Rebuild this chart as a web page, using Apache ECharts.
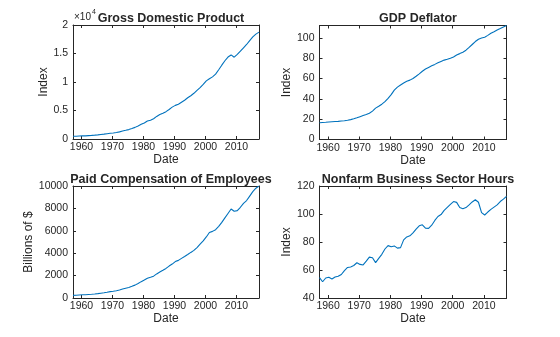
<!DOCTYPE html>
<html>
<head>
<meta charset="utf-8">
<script src="https://cdn.jsdelivr.net/npm/echarts@6/dist/echarts.min.js"></script>
<style>
html,body{margin:0;padding:0;background:#fff;}
#c{width:560px;height:337px;}
</style>
</head>
<body>
<div id="c"></div>
<script>
// Years of the observations (plotted at the end of Q1 of each year)
const years = [1957,1958,1959,1960,1961,1962,1963,1964,1965,1966,1967,1968,1969,1970,1971,1972,1973,1974,1975,1976,1977,1978,1979,1980,1981,1982,1983,1984,1985,1986,1987,1988,1989,1990,1991,1992,1993,1994,1995,1996,1997,1998,1999,2000,2001,2002,2003,2004,2005,2006,2007,2008,2009,2010,2011,2012,2013,2014,2015,2016,2017];

// Gross Domestic Product (billions of $)
const gdp = [470,480,515,540,555,595,630,675,730,800,850,925,1000,1055,1140,1255,1400,1520,1650,1840,2040,2300,2580,2820,3150,3290,3560,3960,4290,4530,4800,5180,5590,5900,6100,6450,6800,7230,7590,8020,8530,9010,9570,10200,10580,10900,11380,12140,12950,13730,14380,14750,14350,14850,15400,16000,16580,17250,17900,18400,18750];

// GDP Deflator (index)
const deflator = [16.5,16.8,17.0,17.3,17.5,17.7,17.9,18.2,18.5,19.0,19.6,20.4,21.4,22.5,23.6,24.6,25.8,28.0,30.9,32.7,34.8,37.3,40.5,44.2,48.6,51.6,53.7,55.7,57.4,58.5,60.1,62.3,64.7,67.2,69.4,71.0,72.6,74.0,75.5,76.9,78.2,79.0,80.0,81.3,83.3,84.6,86.0,88.0,90.7,93.6,96.5,98.8,99.9,100.7,102.6,104.6,106.2,107.9,109.3,110.8,112.3];

// Paid Compensation of Employees (billions of $)
const compensation = [235,245,265,285,295,315,335,360,390,430,465,515,570,605,650,715,800,875,935,1040,1150,1300,1460,1600,1760,1850,1950,2150,2320,2470,2640,2850,3030,3250,3360,3540,3700,3880,4070,4250,4500,4800,5100,5450,5850,5950,6100,6400,6750,7150,7550,7950,7750,7800,8100,8450,8700,9100,9500,9800,10000];

// Nonfarm Business Sector Hours (index)
const hours = [54.6,51.6,54.3,54.8,53.6,55.0,55.5,56.8,59.5,61.8,62.2,63.2,65.2,64.0,63.6,66.3,69.2,68.8,65.3,68.3,71.2,75.0,77.4,76.6,77.2,75.6,76.0,81.5,83.6,84.4,86.5,89.2,91.6,92.3,89.9,89.7,92.0,95.4,98.2,99.6,102.6,104.8,106.9,108.9,108.3,104.6,103.8,104.6,106.5,108.6,110.2,108.4,101.0,99.3,101.4,103.3,104.9,106.5,108.9,110.6,112.6];

// Tick values
const xTicks = [1960,1970,1980,1990,2000,2010];
const gdpTicks = [0,5000,10000,15000,20000];
const deflTicks = [0,20,40,60,80,100];
const compTicks = [0,2000,4000,6000,8000,10000];
const hoursTicks = [40,60,80,100,120];

const titles = ['Gross Domestic Product','GDP Deflator','Paid Compensation of Employees','Nonfarm Business Sector Hours'];
const yNames = ['Index','Index','Billions of $','Index'];

const FONT = '"Liberation Sans", Arial, Helvetica, sans-serif';
const AX = '#262626';
const LINE = '#0072BD';

const grids = [
  {left:73, top:25, width:186, height:114},
  {left:319.5, top:25.5, width:187, height:114},
  {left:73, top:186, width:186, height:112},
  {left:319.5, top:186, width:187, height:112}
];
const yCfg = [
  {min:0, max:20000, ticks:gdpTicks, fmt:v => String(v/10000), gap:21.5},
  {min:0, max:112.3, ticks:deflTicks, fmt:v => String(v), gap:25.5},
  {min:0, max:10000, ticks:compTicks, fmt:v => String(v), gap:37},
  {min:40, max:120, ticks:hoursTicks, fmt:v => String(v), gap:25.5}
];
const values = [gdp, deflator, compensation, hours];

const xAxis = [], yAxis = [], series = [], title = [];
grids.forEach((g, i) => {
  const common = {
    gridIndex:i, type:'value', min:1957.25, max:2017.25,
    axisLine:{show:true, onZero:false, lineStyle:{color:AX, width:1}},
    axisTick:{show:true, inside:true, length:3, customValues:xTicks, lineStyle:{color:AX}},
    splitLine:{show:false}
  };
  xAxis.push(Object.assign({}, common, {
    position:'bottom',
    name:'Date', nameLocation:'middle', nameGap:15,
    nameTextStyle:{color:AX, fontSize:12, fontFamily:FONT},
    axisLabel:{show:true, customValues:xTicks, margin:3, color:AX, fontSize:10.5, fontFamily:FONT, formatter:v => String(v)}
  }));
  xAxis.push(Object.assign({}, common, {position:'top', axisLabel:{show:false}}));
  const yc = yCfg[i];
  const ycommon = {
    gridIndex:i, type:'value', min:yc.min, max:yc.max,
    axisLine:{show:true, onZero:false, lineStyle:{color:AX, width:1}},
    axisTick:{show:true, inside:true, length:3, customValues:yc.ticks, lineStyle:{color:AX}},
    splitLine:{show:false}
  };
  yAxis.push(Object.assign({}, ycommon, {
    position:'left',
    name:yNames[i], nameLocation:'middle', nameGap:yc.gap,
    nameTextStyle:{color:AX, fontSize:12, fontFamily:FONT},
    axisLabel:{show:true, customValues:yc.ticks, margin:5, color:AX, fontSize:10.5, fontFamily:FONT, formatter:yc.fmt}
  }));
  yAxis.push(Object.assign({}, ycommon, {position:'right', axisLabel:{show:false}}));
  series.push({
    type:'line', xAxisIndex:2*i, yAxisIndex:2*i,
    data: years.map((y, k) => [y + 0.25, values[i][k]]),
    showSymbol:false, symbol:'none', smooth:false,
    lineStyle:{color:LINE, width:1.1}, animation:false
  });
  title.push({
    text:titles[i], left:g.left + g.width/2, top:g.top - 18, textAlign:'center',
    textStyle:{color:AX, fontSize:12.5, fontWeight:'bold', fontFamily:FONT}
  });
});

const chart = echarts.init(document.getElementById('c'), null, {renderer:'canvas'});
chart.setOption({
  backgroundColor:'#ffffff',
  animation:false,
  title:title,
  grid:grids,
  xAxis:xAxis,
  yAxis:yAxis,
  series:series,
  graphic:[
    {type:'text', left:74, top:12, z:1, style:{text:'×10', fill:AX, font:'10px ' + FONT}},
    {type:'text', left:92, top:9, z:0, style:{text:'4', fill:AX, font:'7px ' + FONT}}
  ]
});
</script>
</body>
</html>
